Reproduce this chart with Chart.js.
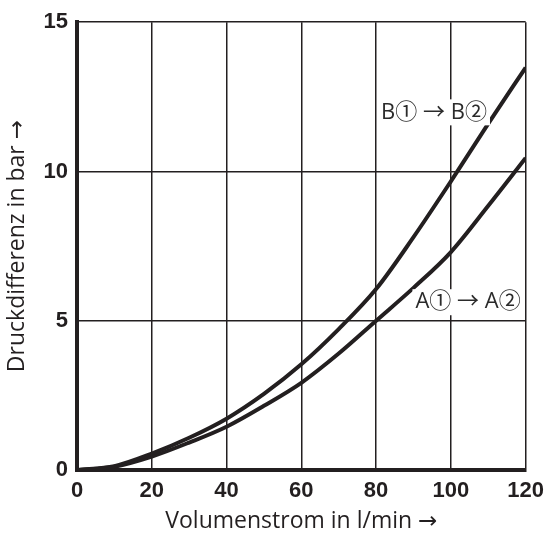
<!DOCTYPE html>
<html>
<head>
<meta charset="utf-8">
<script src="https://cdn.jsdelivr.net/npm/chart.js@4"></script>
<style>
  html, body { margin: 0; padding: 0; background: #fff; }
  #wrap { width: 552px; height: 540px; }
</style>
</head>
<body>
<div id="wrap"><canvas id="chart"></canvas></div>
<script>
// Volumenstrom in l/min
const flow = [0, 10, 20, 30, 40, 50, 60, 70, 80, 90, 100, 110, 120];
// Druckdifferenz in bar
const druckA = [0, 0.11, 0.45, 0.92, 1.45, 2.15, 2.92, 3.9, 5.0, 6.1, 7.3, 8.85, 10.45];
const druckB = [0, 0.13, 0.55, 1.08, 1.72, 2.55, 3.54, 4.72, 6.06, 7.8, 9.67, 11.6, 13.48];

const xTicks = [0, 20, 40, 60, 80, 100, 120];
const yTicks = [0, 5, 10, 15];

const labelA = 'A\u2460 \u2192 A\u2461';
const labelB = 'B\u2460 \u2192 B\u2461';

const ink = '#231f20';

function toPoints(ys) {
    return flow.map((x, i) => ({x: x, y: ys[i]}));
}

// curve labels sit on a white box so the grid is cut behind them
const curveLabels = {
    id: 'curveLabels',
    afterDatasetsDraw(chart) {
        const ctx = chart.ctx;
        const xs = chart.scales.x, ys = chart.scales.y;
        const items = [
            {text: labelB, x: 95.5, y: 11.98},
            {text: labelA, x: 104.6, y: 5.62}
        ];
        ctx.save();
        ctx.font = '22px "Open Sans", "Noto Sans CJK JP", sans-serif';
        ctx.textAlign = 'center';
        ctx.textBaseline = 'middle';
        items.forEach(it => {
            const px = xs.getPixelForValue(it.x);
            const py = ys.getPixelForValue(it.y);
            const w = ctx.measureText(it.text).width;
            ctx.fillStyle = '#fff';
            ctx.fillRect(px - w / 2 - 3, py - 13, w + 6, 26);
            ctx.fillStyle = '#2b2b2b';
            ctx.fillText(it.text, px, py);
        });
        ctx.restore();
    }
};

const ctx = document.getElementById('chart').getContext('2d');

new Chart(ctx, {
    type: 'line',
    data: {
        datasets: [{
            label: labelB,
            data: toPoints(druckB),
            borderColor: ink,
            borderWidth: 4,
            pointRadius: 0,
            cubicInterpolationMode: 'monotone',
            fill: false
        }, {
            label: labelA,
            data: toPoints(druckA),
            borderColor: ink,
            borderWidth: 4,
            pointRadius: 0,
            cubicInterpolationMode: 'monotone',
            fill: false
        }]
    },
    options: {
        responsive: true,
        maintainAspectRatio: false,
        animation: false,
        layout: {
            padding: {top: 17, right: 23, left: 0, bottom: 0}
        },
        plugins: {
            legend: {display: false},
            tooltip: {enabled: false}
        },
        scales: {
            x: {
                type: 'linear',
                min: 0,
                max: 120,
                afterFit(scale) { scale.height = 70; },
                afterBuildTicks(scale) { scale.ticks = xTicks.map(v => ({value: v})); },
                grid: {color: ink, lineWidth: 1.5, drawTicks: false},
                border: {color: ink, width: 4},
                ticks: {
                    color: ink,
                    padding: 8,
                    maxRotation: 0,
                    font: {family: '"Liberation Sans", Arial, sans-serif', size: 22, weight: 'bold'}
                },
                title: {
                    display: true,
                    text: 'Volumenstrom in l/min \u2192',
                    color: ink,
                    padding: {top: 0, bottom: 5},
                    font: {family: '"Open Sans", "DejaVu Sans", sans-serif', size: 23}
                }
            },
            y: {
                min: 0,
                max: 15,
                afterFit(scale) { scale.width = 77; },
                afterBuildTicks(scale) { scale.ticks = yTicks.map(v => ({value: v})); },
                grid: {color: ink, lineWidth: 1.5, drawTicks: false},
                border: {color: ink, width: 4},
                ticks: {
                    color: ink,
                    padding: 9,
                    font: {family: '"Liberation Sans", Arial, sans-serif', size: 22, weight: 'bold'}
                },
                title: {
                    display: true,
                    text: 'Druckdifferenz in bar \u2192',
                    color: ink,
                    padding: {top: 4, bottom: 0},
                    font: {family: '"Open Sans", "DejaVu Sans", sans-serif', size: 23}
                }
            }
        }
    },
    plugins: [curveLabels]
});
</script>
</body>
</html>
